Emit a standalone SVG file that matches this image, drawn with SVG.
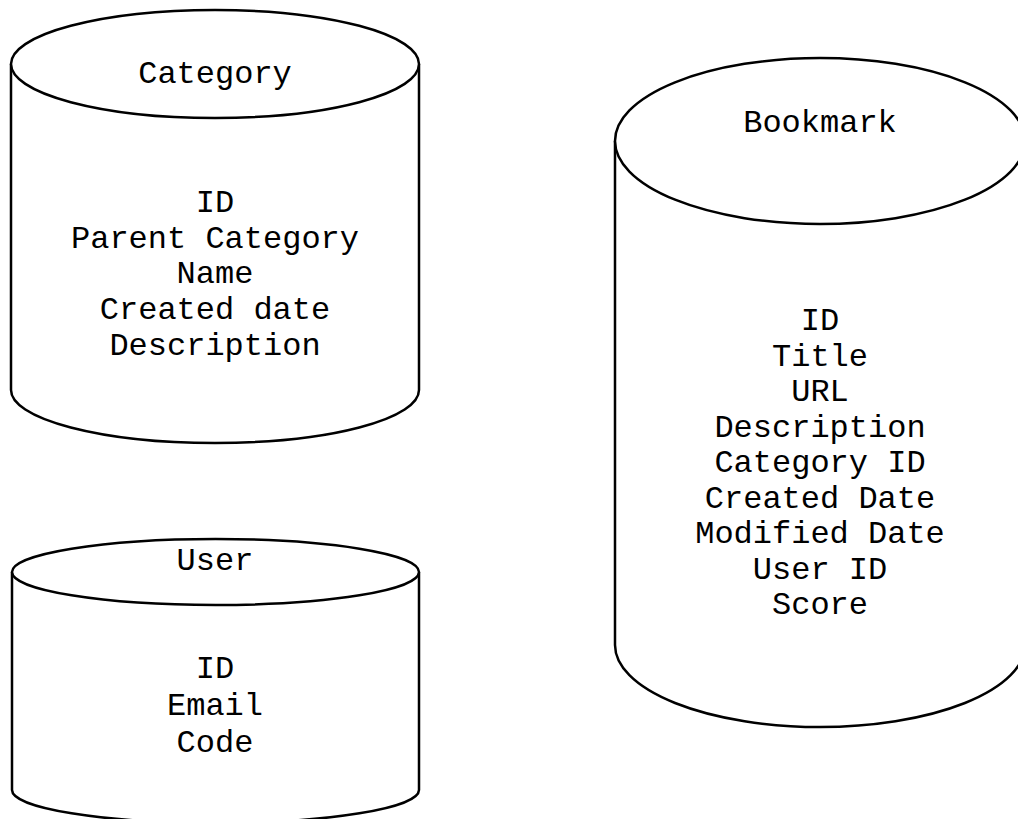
<svg xmlns="http://www.w3.org/2000/svg" width="1018" height="819" viewBox="0 0 1018 819">
<style>
.shape{fill:#fff;stroke:#000;stroke-width:2.5}
.t{font-family:"Liberation Mono","Courier New",monospace;font-size:32px;fill:#000;text-anchor:middle}
</style>
<rect width="1018" height="819" fill="#fff"/>
<g id="connectors"></g>
<g id="category">
<path class="shape" d="M11 64 L11 390 A204 53 0 0 0 419 390 L419 64"/>
<ellipse class="shape" cx="215" cy="64" rx="204" ry="54"/>
<text class="t" x="215" y="83">Category</text>
<text class="t" x="215" y="212">ID</text>
<text class="t" x="215" y="247.5">Parent Category</text>
<text class="t" x="215" y="283">Name</text>
<text class="t" x="215" y="319">Created date</text>
<text class="t" x="215" y="355">Description</text>
</g>
<g id="user">
<path class="shape" d="M12 572 L12 790 A203.5 33 0 0 0 419 790 L419 572"/>
<ellipse class="shape" cx="215.5" cy="572" rx="203.5" ry="33"/>
<text class="t" x="215" y="570">User</text>
<text class="t" x="215" y="678">ID</text>
<text class="t" x="215" y="715">Email</text>
<text class="t" x="215" y="752">Code</text>
</g>
<g id="bookmark">
<path class="shape" d="M615 141 L615 645 A205 82 0 0 0 1025 645 L1025 141"/>
<ellipse class="shape" cx="820" cy="141" rx="205" ry="83"/>
<text class="t" x="820" y="132">Bookmark</text>
<text class="t" x="820" y="330">ID</text>
<text class="t" x="820" y="365.5">Title</text>
<text class="t" x="820" y="401">URL</text>
<text class="t" x="820" y="436.5">Description</text>
<text class="t" x="820" y="472">Category ID</text>
<text class="t" x="820" y="507.5">Created Date</text>
<text class="t" x="820" y="543">Modified Date</text>
<text class="t" x="820" y="578.5">User ID</text>
<text class="t" x="820" y="614">Score</text>
</g>
</svg>
